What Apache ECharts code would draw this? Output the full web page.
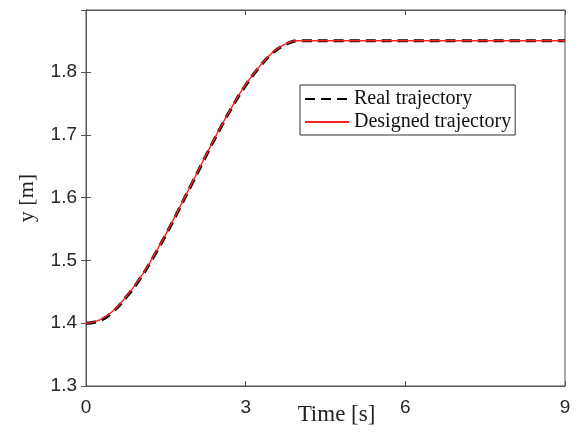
<!DOCTYPE html>
<html>
<head>
<meta charset="utf-8">
<script src="https://cdn.jsdelivr.net/npm/echarts@6/dist/echarts.min.js"></script>
<style>
  html, body { margin: 0; padding: 0; background: #fff; }
  #main { width: 578px; height: 433px; }
</style>
</head>
<body>
<div id="main"></div>
<script>
// trajectory of y over time
var times = [0, 0.25, 0.5, 0.75, 1, 1.25, 1.5, 1.75, 2, 2.25, 2.5, 2.75, 3, 3.25, 3.5, 3.75, 4, 5, 6, 7, 8, 9];
var designed = [1.400, 1.405, 1.419, 1.442, 1.470, 1.504, 1.542, 1.583, 1.625, 1.667, 1.708, 1.746, 1.780, 1.808, 1.831, 1.845, 1.850, 1.850, 1.850, 1.850, 1.850, 1.850];
var real = [1.400, 1.404, 1.418, 1.441, 1.469, 1.503, 1.541, 1.582, 1.624, 1.666, 1.707, 1.745, 1.779, 1.807, 1.830, 1.844, 1.850, 1.850, 1.850, 1.850, 1.850, 1.850];
var xTicks = [0, 3, 6, 9];
var yTicks = [1.3, 1.4, 1.5, 1.6, 1.7, 1.8];
var seriesNames = ['Real trajectory', 'Designed trajectory'];

var myChart = echarts.init(document.getElementById('main'));

function pairs(ys) {
  return times.map(function (t, i) { return [t, ys[i]]; });
}

var axisCol = '#262626';
var labelFont = { fontFamily: 'Liberation Sans', fontSize: 19, color: axisCol };
var yMax = 1.899;

var option = {
  animation: false,
  grid: {
    left: 86, right: 13, top: 10, bottom: 47,
    outerBoundsMode: 'none', containLabel: false,
    show: true, borderColor: '#555', borderWidth: 1
  },
  legend: {
    data: seriesNames,
    orient: 'vertical',
    left: 300,
    top: 85,
    itemWidth: 44,
    itemHeight: 14,
    itemGap: 3,
    padding: [4, 4, 3, 4],
    borderColor: '#333',
    borderWidth: 1,
    backgroundColor: '#fff',
    itemStyle: { opacity: 0 },
    textStyle: { fontFamily: 'Liberation Serif', fontSize: 20, color: '#111' }
  },
  xAxis: [{
    type: 'value', min: xTicks[0], max: xTicks[xTicks.length - 1], interval: 3,
    name: 'Time [s]', nameLocation: 'middle', nameGap: 17, nameMoveOverlap: false,
    nameTextStyle: { fontFamily: 'Liberation Serif', fontSize: 23, color: '#222', padding: [0, 0, 0, 22] },
    axisLine: { lineStyle: { color: '#555' } },
    axisTick: { inside: true, length: 5, lineStyle: { color: '#555' } },
    axisLabel: Object.assign({ margin: 12 }, labelFont),
    splitLine: { show: false }
  }, {
    type: 'value', position: 'top', min: xTicks[0], max: xTicks[xTicks.length - 1], interval: 3,
    axisLine: { lineStyle: { color: '#555' } },
    axisTick: { inside: true, length: 5, lineStyle: { color: '#555' } },
    axisLabel: { show: false },
    splitLine: { show: false }
  }],
  yAxis: [{
    type: 'value', min: yTicks[0], max: yMax, interval: 0.1,
    name: 'y [m]', nameLocation: 'middle', nameGap: 48, nameMoveOverlap: false,
    nameTextStyle: { fontFamily: 'Liberation Serif', fontSize: 22, color: '#222' },
    axisLine: { show: true, lineStyle: { color: '#555' } },
    axisTick: { show: true, inside: true, length: 5, lineStyle: { color: '#555' } },
    axisLabel: Object.assign({
      margin: 9,
      formatter: function (v) { return v > 1.85 ? '' : v.toFixed(1); }
    }, labelFont),
    splitLine: { show: false }
  }, {
    type: 'value', position: 'right', min: yTicks[0], max: yMax, interval: 0.1,
    axisLine: { show: true, lineStyle: { color: '#555' } },
    axisTick: { show: true, inside: true, length: 5, lineStyle: { color: '#555' } },
    axisLabel: { show: false },
    splitLine: { show: false }
  }],
  series: [
    {
      name: seriesNames[0],
      type: 'line',
      data: pairs(real),
      smooth: true,
      symbol: 'none',
      color: '#000',
      lineStyle: { color: '#000', width: 3.2, type: [10, 6] }
    },
    {
      name: seriesNames[1],
      type: 'line',
      data: pairs(designed),
      smooth: true,
      symbol: 'none',
      color: '#ff2020',
      lineStyle: { color: '#ff2020', width: 1.4 }
    }
  ]
};

option && myChart.setOption(option);
</script>
</body>
</html>
